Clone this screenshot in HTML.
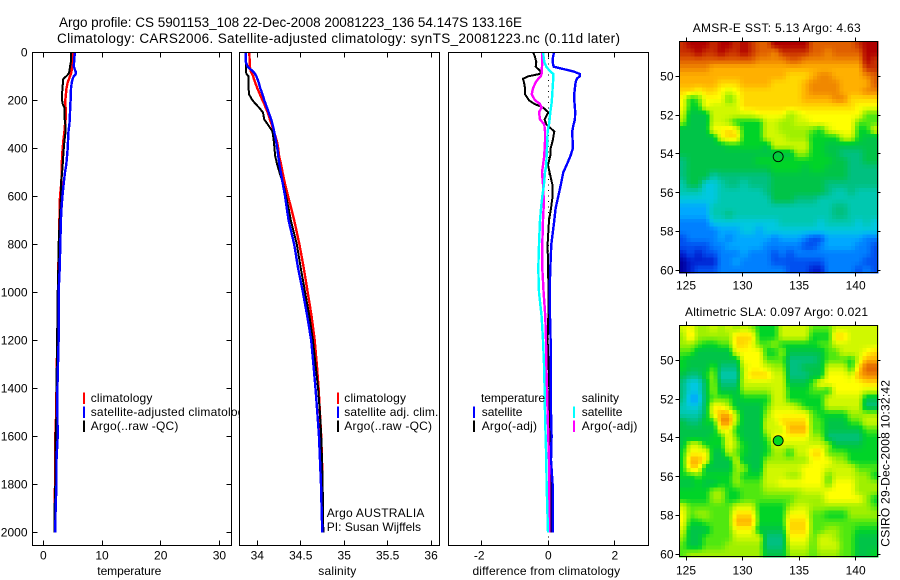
<!DOCTYPE html>
<html lang="en">
<head>
<meta charset="utf-8">
<title>Argo profile CS 5901153_108</title>
<style>
html,body{margin:0;padding:0;background:#fff;width:900px;height:580px;overflow:hidden}
svg{display:block}
text{font-family:"Liberation Sans",Arial,sans-serif;font-size:12px;fill:#000}
.ttl{font-size:13.5px}
</style>
</head>
<body>
<svg id="figure" xmlns="http://www.w3.org/2000/svg" width="900" height="580" viewBox="0 0 900 580">
  <rect x="0" y="0" width="900" height="580" fill="#fff"/>
  <text class="ttl" x="59" y="27" textLength="463">Argo profile: CS 5901153_108 22-Dec-2008 20081223_136 54.147S 133.16E</text>
  <text class="ttl" x="57" y="43" textLength="563">Climatology: CARS2006. Satellite-adjusted climatology: synTS_20081223.nc (0.11d later)</text>
  <g id="panel-t"></g>
  <g id="panel-s"></g>
  <g id="panel-d"></g>
  <g id="map-sst"></g>
  <g id="map-sla"></g>
  <text x="692.7" y="32" textLength="168">AMSR-E SST: 5.13 Argo: 4.63</text>
  <text x="685" y="316" textLength="183">Altimetric SLA: 0.097 Argo: 0.021</text>
  <text transform="translate(889.5 546.7) rotate(-90)" x="0" y="0" textLength="166.7">CSIRO 29-Dec-2008 10:32:42</text>
</svg>
<script>
// ---------- profile data ----------
const depths = [0,20,40,60,80,90,100,110,125,150,175,200,215,230,250,280,300,330,370,400,430,470,500,550,600,650,700,800,900,1000,1100,1200,1300,1400,1500,1600,1700,1800,1900,2000];
const tempClim = [4.95,4.95,4.92,4.9,4.8,4.7,4.55,4.4,4.15,3.95,3.85,3.75,3.75,3.8,3.8,3.8,3.7,3.6,3.4,3.3,3.2,3.15,3.15,3.05,2.85,2.8,2.75,2.65,2.55,2.5,2.45,2.4,2.3,2.25,2.2,2.05,2.05,2.0,1.95,1.9];
const tempSat = [5.4,5.3,5.25,5.2,5.5,5.55,5.2,5.0,4.85,4.72,4.68,4.65,4.6,4.58,4.55,4.5,4.45,4.3,4.2,4.15,4.05,3.9,3.7,3.45,3.25,3.1,3.0,2.9,2.8,2.6,2.6,2.6,2.5,2.4,2.4,2.45,2.25,2.25,2.1,2.05];
const tempArgo = [4.75,4.75,4.7,4.55,4.45,4.3,3.9,3.4,3.35,3.25,3.2,3.2,3.3,3.6,3.65,3.65,3.75,3.8,3.6,3.5,3.4,3.3,3.2,3.0,3.0,2.9,2.8,2.6,2.55,2.45,2.4,2.35,2.3,2.25,2.25,2.1,2.1,2.05,1.93,1.9];
const salClim = [33.908,33.91,33.912,33.915,33.925,33.94,33.953,33.96,33.975,34.0,34.03,34.06,34.08,34.095,34.12,34.145,34.165,34.19,34.225,34.24,34.25,34.275,34.29,34.32,34.355,34.39,34.425,34.485,34.535,34.58,34.625,34.66,34.685,34.705,34.72,34.735,34.745,34.75,34.752,34.752];
const salSat = [33.866,33.866,33.868,33.89,33.95,33.975,33.99,34.0,34.015,34.035,34.06,34.08,34.095,34.11,34.13,34.16,34.175,34.195,34.215,34.23,34.24,34.255,34.27,34.295,34.32,34.34,34.36,34.425,34.47,34.525,34.575,34.62,34.645,34.67,34.69,34.71,34.722,34.733,34.74,34.748];
const salArgo = [33.866,33.867,33.868,33.87,33.87,33.875,33.9,33.9,33.9,33.9,33.905,33.945,33.98,34.02,34.065,34.08,34.12,34.175,34.19,34.198,34.205,34.23,34.255,34.3,34.33,34.36,34.385,34.455,34.5,34.55,34.6,34.64,34.67,34.7,34.72,34.735,34.745,34.752,34.757,34.76];
const diffTempSat = [0.17,0.14,0.13,0.16,0.76,0.94,0.94,0.86,0.82,0.8,0.78,0.78,0.79,0.8,0.81,0.8,0.76,0.72,0.73,0.74,0.67,0.55,0.45,0.38,0.3,0.22,0.18,0.09,0.06,0.04,0.05,0.07,0.07,0.07,0.08,0.1,0.08,0.13,0.13,0.13];
const diffTempArgo = [-0.45,-0.4,-0.36,-0.38,-0.23,-0.25,-0.6,-0.76,-0.73,-0.7,-0.7,-0.58,-0.42,-0.16,0,-0.11,-0.06,0.18,0.13,0.07,0.06,-0.01,0.04,0.12,0.13,0.08,0.02,-0.02,-0.01,0.01,0,-0.02,0.01,0.03,0.04,0.06,0.06,0.06,0.06,0.06];
const diffSalSat = [-0.15,-0.14,-0.12,-0.06,0.06,0.15,0.15,0.15,0.14,0.13,0.12,0.104,0.096,0.08,0.06,0.04,0.02,-0.02,-0.03,-0.04,-0.05,-0.06,-0.1,-0.13,-0.18,-0.22,-0.25,-0.28,-0.3,-0.28,-0.2,-0.16,-0.13,-0.11,-0.1,-0.08,-0.06,-0.05,-0.03,-0.01];
const diffSalArgo = [-0.18,-0.18,-0.18,-0.19,-0.2,-0.2,-0.23,-0.3,-0.38,-0.46,-0.5,-0.4,-0.25,-0.2,-0.28,-0.25,-0.12,-0.1,-0.1,-0.11,-0.12,-0.16,-0.19,-0.16,-0.14,-0.14,-0.16,-0.18,-0.18,-0.14,-0.09,-0.07,-0.06,-0.04,-0.02,0,0.02,0.03,0.03,0.03];

// ---------- tick labels ----------
const depthTicks = [0,200,400,600,800,1000,1200,1400,1600,1800,2000];
const tempTicks = [0,10,20,30];
const salTicks = [34,34.5,35,35.5,36];
const diffTicks = [-2,0,2];
const lonTicks = [125,130,135,140];
const latTicks = [50,52,54,56,58,60];
const argoLon = [133.15];
const argoLat = [54.15];

// ---------- map colour index grids (rows north to south, columns west to east) ----------
const sstGrid = [
[18,19,19,19,18,19,19,18,19,18,17,17,19,19,19,19,19,17,17,17,17,17,17,18,19,19],
[18,18,19,18,18,19,18,18,19,18,17,17,16,18,18,18,18,17,17,16,17,17,17,17,19,19],
[17,17,17,17,17,17,17,17,17,17,16,16,16,16,17,17,16,16,16,16,16,16,16,16,19,18],
[16,16,16,16,15,15,15,15,15,15,15,15,15,15,15,15,15,15,15,15,15,15,15,15,18,18],
[15,15,15,15,15,15,15,15,15,15,15,15,15,15,14,14,14,15,16,16,15,15,15,15,16,17],
[15,15,15,15,15,14,14,14,15,15,15,15,14,14,14,14,15,16,16,16,16,15,15,15,15,17],
[14,14,13,14,14,13,12,13,14,14,14,14,14,14,14,14,15,16,16,16,16,15,15,15,16,16],
[13,9,10,13,13,13,10,12,14,14,14,14,14,14,14,14,15,15,15,15,16,16,14,14,14,14],
[13,9,9,13,12,12,12,12,14,14,14,14,14,14,14,14,14,14,14,14,14,14,14,13,13,13],
[12,8,8,8,12,12,12,12,12,12,13,13,13,13,11,12,13,13,13,13,13,13,13,13,10,10],
[11,8,8,8,12,12,11,9,9,9,9,12,12,11,11,12,12,13,13,13,13,13,13,10,10,10],
[8,8,8,8,13,13,14,13,9,9,9,12,12,11,11,11,11,10,9,12,13,13,13,9,9,12],
[8,8,8,8,8,13,14,14,9,9,9,12,12,12,11,11,11,9,9,9,9,12,12,9,8,8],
[8,8,8,8,8,8,9,9,9,9,9,8,12,12,12,12,12,9,9,8,8,8,8,8,8,8],
[8,8,8,8,8,8,8,8,8,8,8,8,8,8,8,11,11,9,9,8,8,7,7,7,8,8],
[7,8,8,8,8,8,8,8,8,8,9,9,9,9,9,9,9,9,9,9,8,8,7,7,8,8],
[7,8,8,8,8,8,8,8,8,8,8,8,9,9,9,9,8,9,9,8,8,8,7,7,7,7],
[7,8,8,8,6,7,7,7,7,7,7,7,8,8,8,8,8,8,8,8,8,8,7,7,7,7],
[6,8,8,5,5,6,7,7,6,7,7,7,8,8,8,8,8,8,8,7,7,7,7,7,7,7],
[6,6,6,5,5,6,6,6,6,6,6,7,8,8,8,8,8,8,8,7,6,6,7,6,6,6],
[5,5,5,5,5,6,6,6,6,6,6,6,8,8,8,7,7,7,6,6,6,6,6,6,6,6],
[4,4,4,4,6,6,6,6,6,6,6,6,6,6,6,6,6,6,6,6,7,7,6,6,6,6],
[4,4,4,4,6,6,7,6,6,6,6,6,6,6,6,6,6,6,6,6,7,7,6,6,6,6],
[3,3,3,3,5,5,5,5,5,5,5,5,5,6,6,6,6,6,5,6,6,6,6,5,6,5],
[3,3,3,3,3,4,4,4,5,5,4,5,5,5,5,5,5,5,5,5,5,5,5,5,5,5],
[2,3,3,3,3,4,3,4,4,4,4,4,3,4,4,4,3,2,2,4,4,4,4,4,3,3],
[2,2,2,2,3,3,4,4,4,4,4,3,3,3,3,3,2,2,3,4,4,4,4,3,3,2],
[1,2,1,2,2,3,3,3,4,3,3,3,2,3,2,3,3,3,3,3,3,3,3,3,3,2],
[0,1,1,1,1,3,3,4,3,3,3,3,2,2,2,2,2,2,2,3,3,3,3,3,2,2],
[0,1,2,2,2,3,3,3,3,3,3,3,3,3,2,2,2,1,1,3,3,3,3,2,3,2]
];
const slaGrid = [
[12,13,11,11,12,11,12,11,12,11,9,9,9,12,12,12,12,10,10,10,12,12,12,12,12,12],
[11,14,11,11,11,11,11,14,14,14,9,9,9,12,12,12,12,9,9,9,14,14,12,12,12,12],
[11,11,10,9,9,10,10,14,14,13,10,10,11,9,9,9,9,9,10,10,12,12,12,12,12,12],
[10,10,8,8,8,8,8,13,13,13,13,9,9,11,8,8,8,8,8,10,10,12,12,12,13,14],
[9,8,8,8,8,8,8,8,13,13,13,10,10,10,7,7,7,7,8,10,10,10,9,12,15,15],
[9,8,8,8,10,7,7,7,12,13,13,12,11,11,7,7,8,8,8,12,12,12,9,14,17,17],
[8,7,7,9,11,6,6,6,12,14,14,14,12,12,7,7,7,8,8,13,13,13,12,15,16,16],
[7,5,5,8,11,7,7,7,12,12,12,12,12,12,8,8,8,10,13,13,13,13,13,13,14,14],
[7,5,5,8,11,8,8,8,11,11,11,11,12,12,9,9,9,10,10,9,13,13,13,13,12,12],
[7,4,4,8,10,10,10,8,9,9,9,9,12,12,9,9,9,9,9,12,12,12,12,12,8,8],
[6,5,5,8,13,13,11,8,8,8,8,10,12,12,12,11,9,9,9,12,12,12,12,12,7,7],
[6,6,6,8,13,15,15,11,8,8,8,11,13,13,13,13,13,10,9,9,9,9,11,11,11,11],
[8,7,7,9,9,16,16,11,8,8,8,12,12,14,14,14,14,10,10,8,8,8,10,10,12,12],
[8,8,8,8,8,13,13,9,8,8,8,12,12,12,15,15,15,10,10,8,8,8,8,8,10,10],
[8,8,8,8,9,9,13,10,8,8,8,10,13,13,13,13,13,11,11,7,7,7,7,7,9,9],
[8,12,12,9,9,9,13,11,9,8,8,9,12,12,12,12,12,12,12,11,8,8,8,8,9,9],
[9,13,13,13,8,8,12,10,9,8,8,9,11,11,9,12,12,14,14,10,10,10,9,9,9,9],
[9,15,15,13,8,8,8,12,8,8,8,11,11,11,11,11,11,13,13,13,11,11,9,9,9,9],
[9,14,14,8,8,8,8,11,11,8,8,12,12,12,12,12,13,13,13,12,12,12,12,10,10,10],
[9,9,10,9,9,9,9,11,9,9,9,12,12,12,11,11,13,13,13,10,12,12,12,11,11,9],
[8,8,9,8,8,9,9,11,10,10,10,12,12,13,13,13,13,13,13,10,13,13,13,11,11,11],
[9,9,9,9,11,11,9,9,10,10,10,11,11,11,11,11,12,12,12,13,13,13,13,11,11,11],
[9,9,9,9,11,11,9,9,10,10,10,10,10,10,10,11,11,11,11,13,13,13,13,13,11,9],
[12,10,10,10,10,10,10,12,12,12,9,9,9,9,11,12,12,11,11,11,11,11,11,11,11,10],
[13,10,11,11,10,10,10,14,14,14,9,9,9,9,13,13,13,10,10,9,9,9,11,11,11,11],
[13,9,9,10,10,10,10,15,15,15,9,9,9,9,14,14,14,10,10,10,10,10,10,10,10,10],
[12,8,8,8,10,10,10,13,13,13,8,8,8,8,14,14,14,10,10,11,11,10,10,9,9,9],
[11,8,8,10,10,10,10,12,12,12,12,7,7,7,13,13,13,10,12,12,11,10,10,8,8,8],
[10,8,8,10,10,10,11,11,11,11,11,7,7,7,12,12,12,10,12,12,12,10,10,8,8,8],
[10,11,11,11,11,11,11,11,11,11,11,8,8,8,11,11,11,10,11,11,11,10,10,8,8,9]
];
const palette = ['#0000a0','#0020d0','#0050f0','#0080ff','#00a8ff','#00c8e0','#00c8b0','#00c080','#00c448','#00d428','#50e810','#a0f000','#d0f800','#ffff00','#ffd800','#ffb000','#f08800','#e06000','#c83000','#b00000'];

// ---------- axis functions ----------
const NS = 'http://www.w3.org/2000/svg';
const yDepth = d => 52.3 + d * 0.24;
const xTemp = v => 43.3 + (v - 0) * 5.87;
const xSal = v => 257.3 + (v - 34) * 86.9;
const xDiff = v => 548.3 + v * 33.25;
const xLon = v => 686 + (v - 125) * 11.31;
const ySst = v => 76.3 + (v - 50) * 19.37;
const ySla = v => 360.3 + (v - 50) * 19.37;

function make(tag, parent, attrs) {
  const el = document.createElementNS(NS, tag);
  for (const k in attrs) el.setAttribute(k, attrs[k]);
  parent.appendChild(el);
  return el;
}
function label(parent, str, x, y, anchor, width) {
  const el = make('text', parent, {x: x, y: y, 'text-anchor': anchor || 'start'});
  if (width) el.setAttribute('textLength', width);
  el.textContent = str;
  return el;
}
function frame(parent, x0, y0, x1, y1) {
  const el = make('rect', parent, {x: x0 + 0.5, y: y0 + 0.5, width: x1 - x0, height: y1 - y0, fill: 'none', stroke: '#000', 'stroke-width': 1, 'shape-rendering': 'crispEdges'});
  
  
}
function tickLine(parent, x1, y1, x2, y2) {
  const el = make('line', parent, {x1: x1, y1: y1, x2: x2, y2: y2, stroke: '#000', 'stroke-width': 1, 'shape-rendering': 'crispEdges'});
  
  
}
function profile(parent, xs, xFn, color, width, name) {
  const pts = xs.map((v, i) => xFn(v).toFixed(1) + ',' + yDepth(depths[i]).toFixed(1)).join(' ');
  const el = make('polyline', parent, {points: pts, fill: 'none', stroke: color, 'stroke-width': width, 'stroke-linejoin': 'miter', 'shape-rendering': 'crispEdges'});
  
  
}
function swatch(parent, x, y, color) {
  const el = make('rect', parent, {x: x, y: y, width: 2, height: 11.5, fill: color, 'shape-rendering': 'crispEdges'});
  
  
}
function panelBase(parent, x0, x1, ticks, xFn, labels, xName, xNameX, xNameW, xNameValue) {
  const bg = make('rect', parent, {x: x0, y: 52, width: x1 - x0 + 1, height: 494, fill: '#fff'});
  
  
  ticks.forEach((t, i) => {
    const x = Math.floor(xFn(t)) + 0.5;
    tickLine(parent, x, 52.5, x, 57.5);
    tickLine(parent, x, 545.5, x, 540.5);
    const lab = label(parent, labels[i], xFn(t) - (t < 0 ? 2.6 : 0), 559.5, 'middle');
    
    
  });
  const title = label(parent, xNameValue, xNameX, 575, 'middle', xNameW);
  
  
}

// ---------- temperature panel ----------
const gT = document.getElementById('panel-t');
panelBase(gT, 32, 231, tempTicks, xTemp, tempTicks.map(String), 'x-axis-title-temperature', 129.3, 64, 'temperature');
depthTicks.forEach(d => {
  const y = Math.floor(yDepth(d)) + 0.5;
  tickLine(gT, 32.5, y, 37.5, y);
  tickLine(gT, 231.5, y, 226.5, y);
  const lab = label(gT, String(d), 27.5, yDepth(d) + 4.4, 'end');
  
  
});
profile(gT, tempClim, xTemp, '#ff0000', 2.4, 'temperature-climatology-line');
profile(gT, tempArgo, xTemp, '#000000', 2, 'temperature-argo-line');
profile(gT, tempSat, xTemp, '#0000ff', 2.4, 'temperature-satellite-line');
frame(gT, 32, 52, 231, 545);
swatch(gT, 83, 392.7, '#ff0000');
swatch(gT, 83, 406.7, '#0000ff');
swatch(gT, 83, 420.7, '#000000');
const lt1 = label(gT, 'climatology', 90.7, 402, 'start', 61.7);


const lt2 = label(gT, 'satellite-adjusted climatology', 90.7, 416, 'start', 160);


const lt3 = label(gT, 'Argo(..raw -QC)', 90.7, 430, 'start', 87.7);



// ---------- salinity panel ----------
const gS = document.getElementById('panel-s');
panelBase(gS, 239, 439, salTicks, xSal, salTicks.map(String), 'x-axis-title-salinity', 337.3, 38, 'salinity');
profile(gS, salClim, xSal, '#ff0000', 2.4, 'salinity-climatology-line');
profile(gS, salArgo, xSal, '#000000', 2, 'salinity-argo-line');
profile(gS, salSat, xSal, '#0000ff', 2.4, 'salinity-satellite-line');
frame(gS, 239, 52, 439, 545);
swatch(gS, 337, 392.7, '#ff0000');
swatch(gS, 337, 406.7, '#0000ff');
swatch(gS, 337, 420.7, '#000000');
const ls1 = label(gS, 'climatology', 344.3, 402, 'start', 61.7);


const ls2 = label(gS, 'satellite adj. clim.', 344.3, 416, 'start', 94);


const ls3 = label(gS, 'Argo(..raw -QC)', 344.3, 430, 'start', 87.7);


const pi1 = label(gS, 'Argo AUSTRALIA', 326.7, 517, 'start', 97.7);


const pi2 = label(gS, 'PI: Susan Wijffels', 326.7, 531, 'start', 94.3);



// ---------- difference panel ----------
const gD = document.getElementById('panel-d');
panelBase(gD, 448, 648, diffTicks.slice(0, 2), xDiff, diffTicks.slice(0, 2).map(String), 'x-axis-title-difference', 546.3, 147.7, 'difference from climatology');
diffTicks.slice(2).forEach(t => {
  const x = Math.floor(xDiff(t)) + 0.5;
  tickLine(gD, x, 52.5, x, 57.5);
  tickLine(gD, x, 545.5, x, 540.5);
  const lab = label(gD, String(t), xDiff(t), 559.5, 'middle');
  
  
});
const zeroLine = make('line', gD, {x1: Math.floor(xDiff(0)) + 0.5, y1: 52.5, x2: Math.floor(xDiff(0)) + 0.5, y2: 545, stroke: '#000', 'stroke-width': 1, 'stroke-dasharray': '1 4.5', 'shape-rendering': 'crispEdges'});


profile(gD, diffTempArgo, xDiff, '#000000', 2, 'difference-temperature-argo-line');
profile(gD, diffTempSat, xDiff, '#0000ff', 2.4, 'difference-temperature-satellite-line');
profile(gD, diffSalArgo, xDiff, '#ff00ff', 2.4, 'difference-salinity-argo-line');
profile(gD, diffSalSat, xDiff, '#00ffff', 2.4, 'difference-salinity-satellite-line');
frame(gD, 448, 52, 648, 545);
swatch(gD, 473, 406.7, '#0000ff');
swatch(gD, 473, 420.7, '#000000');
swatch(gD, 573, 406.7, '#00ffff');
swatch(gD, 573, 420.7, '#ff00ff');
const ld1 = label(gD, 'temperature', 481, 402, 'start', 64);


const ld2 = label(gD, 'satellite', 481.7, 416, 'start', 40.7);


const ld3 = label(gD, 'Argo(-adj)', 481.7, 430, 'start', 55.3);


const ld4 = label(gD, 'salinity', 581.7, 402, 'start', 37.3);


const ld5 = label(gD, 'satellite', 581.7, 416, 'start', 40.7);


const ld6 = label(gD, 'Argo(-adj)', 581.7, 430, 'start', 55.7);



// ---------- maps ----------
function hexToRgb(h) {
  return [parseInt(h.slice(1, 3), 16), parseInt(h.slice(3, 5), 16), parseInt(h.slice(5, 7), 16)];
}
function colourFor(level) {
  const v = Math.max(0, Math.min(palette.length - 1, level));
  const lo = Math.floor(v), hi = Math.min(palette.length - 1, lo + 1), t = v - lo;
  const a = hexToRgb(palette[lo]), b = hexToRgb(palette[hi]);
  return 'rgb(' + a.map((c, i) => Math.round(c + (b[i] - c) * t)).join(',') + ')';
}
function sampleGrid(grid, u, v) {
  const rows = grid.length, cols = grid[0].length;
  const cu = Math.max(0, Math.min(cols - 1, u)), cv = Math.max(0, Math.min(rows - 1, v));
  const c0 = Math.floor(cu), r0 = Math.floor(cv);
  const c1 = Math.min(cols - 1, c0 + 1), r1 = Math.min(rows - 1, r0 + 1);
  const fu = cu - c0, fv = cv - r0;
  return (grid[r0][c0] * (1 - fu) + grid[r0][c1] * fu) * (1 - fv) + (grid[r1][c0] * (1 - fu) + grid[r1][c1] * fu) * fv;
}
function drawMap(parent, grid, yFn, top, bottom, tickLabelY, cellName, markerFill) {
  const left = 679, right = 877, sub = 2;
  const rows = grid.length * sub, cols = grid[0].length * sub;
  const cw = (right - left + 1) / cols, ch = (bottom - top + 1) / rows;
  for (let r = 0; r < rows; r++) {
    for (let c = 0; c < cols; c++) {
      const level = sampleGrid(grid, (c + 0.5) / sub - 0.5, (r + 0.5) / sub - 0.5);
      const cell = make('rect', parent, {x: (left + c * cw).toFixed(2), y: (top + r * ch).toFixed(2), width: (cw + 0.6).toFixed(2), height: (ch + 0.6).toFixed(2), fill: colourFor(level), 'shape-rendering': 'crispEdges'});
      
      
    }
  }
  frame(parent, left, top, right, bottom);
  lonTicks.forEach(t => {
    const x = Math.floor(xLon(t)) + 0.5;
    tickLine(parent, x, top - 3.5, x, top + 0.5);
    tickLine(parent, x, bottom + 0.5, x, bottom + 4.5);
    const lab = label(parent, String(t), xLon(t), tickLabelY, 'middle');
    
    
  });
  latTicks.forEach(t => {
    const y = Math.floor(yFn(t)) + 0.5;
    tickLine(parent, left - 3.5, y, left + 0.5, y);
    tickLine(parent, right + 0.5, y, right + 3.5, y);
    const lab = label(parent, String(t), 673.5, yFn(t) + 4.4, 'end');
    
    
  });
  const marker = make('circle', parent, {cx: xLon(argoLon[0]), cy: yFn(argoLat[0]), r: 5, fill: markerFill, stroke: '#000', 'stroke-width': 0.9});
  
  
}
drawMap(document.getElementById('map-sst'), sstGrid, ySst, 41, 272, 289.5, 'sst-cell', 'none');
drawMap(document.getElementById('map-sla'), slaGrid, ySla, 325, 556, 574.5, 'sla-cell', '#00d820');
</script>
</body>
</html>
